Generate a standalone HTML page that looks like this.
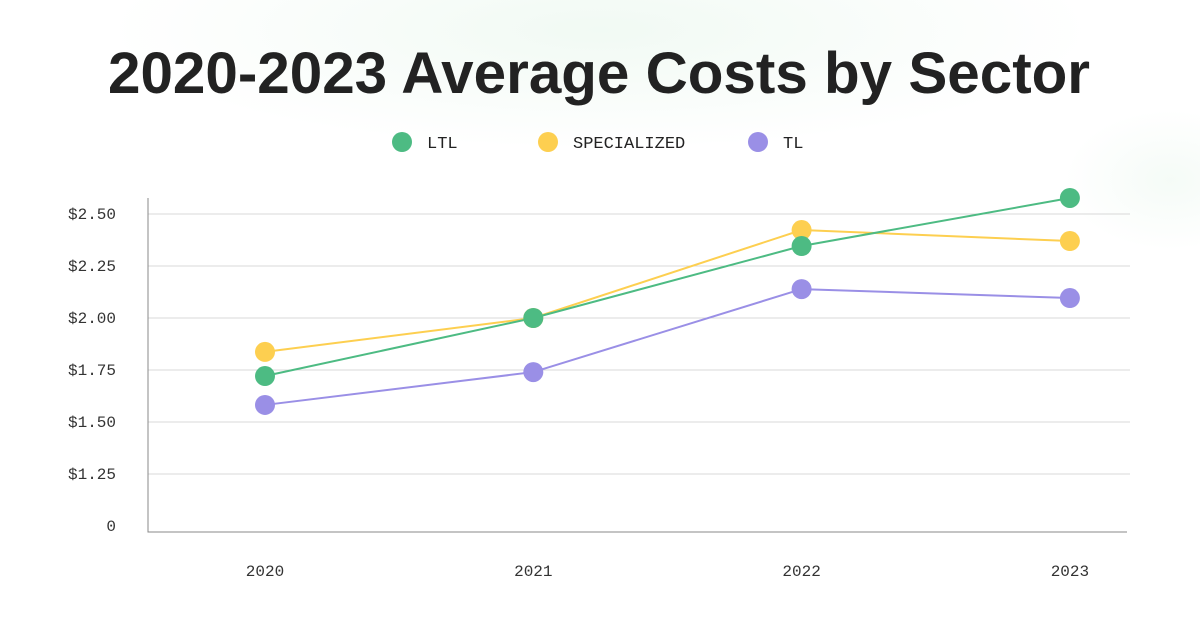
<!DOCTYPE html>
<html><head><meta charset="utf-8"><style>
body{margin:0;width:1200px;height:628px;overflow:hidden;background:#fff;font-family:"Liberation Sans",sans-serif}
#bg{position:absolute;left:0;top:0;width:1200px;height:628px;background:radial-gradient(ellipse 700px 170px at 600px 30px,rgba(215,240,222,0.35),rgba(255,255,255,0) 70%),radial-gradient(ellipse 150px 100px at 1170px 180px,rgba(215,240,222,0.25),rgba(255,255,255,0) 70%)}
</style></head><body>
<div id="bg"></div>
<svg id="c" width="1200" height="628" style="position:absolute;left:0;top:0">
<text x="108" y="93" textLength="982" lengthAdjust="spacingAndGlyphs" font-family="Liberation Sans,sans-serif" font-weight="bold" font-size="58" fill="#222">2020-2023 Average Costs by Sector</text>
</svg>
<script>
const categories=["2020","2021","2022","2023"];
const ltl=[1.721,2.00,2.346,2.577];
const specialized=[1.837,2.0,2.423,2.37];
const tl=[1.582,1.74,2.139,2.096];
const tickValues=[1.0,1.25,1.5,1.75,2.0,2.25,2.5];
const tickLabels=["0","$1.25","$1.50","$1.75","$2.00","$2.25","$2.50"];
const seriesNames=["LTL","SPECIALIZED","TL"];
const NS="http://www.w3.org/2000/svg";
const svg=document.getElementById('c');
function y(v){return 318-(v-2)*208;}
function x(i){return 265+i*268.3;}
function mk(t,a){const e=document.createElementNS(NS,t);for(const k in a)e.setAttribute(k,a[k]);svg.appendChild(e);return e;}
const mono='"Liberation Mono",monospace';
tickValues.forEach((v,i)=>{
 if(i>0){const g=mk('line',{x1:148,x2:1130,y1:y(v),y2:y(v),stroke:'#d8d8d8','stroke-width':1});
 
 }
 const t=mk('text',{x:116,y:i==0?531:y(v)+5,'text-anchor':'end','font-family':mono,'font-size':16,fill:'#333'});
 t.textContent=tickLabels[i];
 
 
});
const ax=mk('path',{d:'M148 198 V532 H1127',fill:'none',stroke:'#888','stroke-width':1});


categories.forEach((c,i)=>{
 const t=mk('text',{x:x(i),y:576,'text-anchor':'middle','font-family':mono,'font-size':16,fill:'#333'});
 t.textContent=c;
 
 
});
const colors=['#4dbb83','#fdcf50','#9a8fe6'];
const data=[ltl,specialized,tl];
const order=[2,1,0];
order.forEach(s=>{
 const d=data[s].map((v,i)=>(i?'L':'M')+x(i)+' '+y(v)).join(' ');
 const p=mk('path',{d:d,fill:'none',stroke:colors[s],'stroke-width':2});
 
 
});
order.forEach(s=>{
 data[s].forEach((v,i)=>{
  const c=mk('circle',{cx:x(i),cy:y(v),r:10,fill:colors[s]});
  
  
 });
});
const lx=[402,548,758];
seriesNames.forEach((n,i)=>{
 const c=mk('circle',{cx:lx[i],cy:142,r:10,fill:colors[i]});
 
 
 const t=mk('text',{x:lx[i]+25,y:148,'font-family':mono,'font-size':17,fill:'#222'});
 t.textContent=n;
 
 
});
</script>
</body></html>
